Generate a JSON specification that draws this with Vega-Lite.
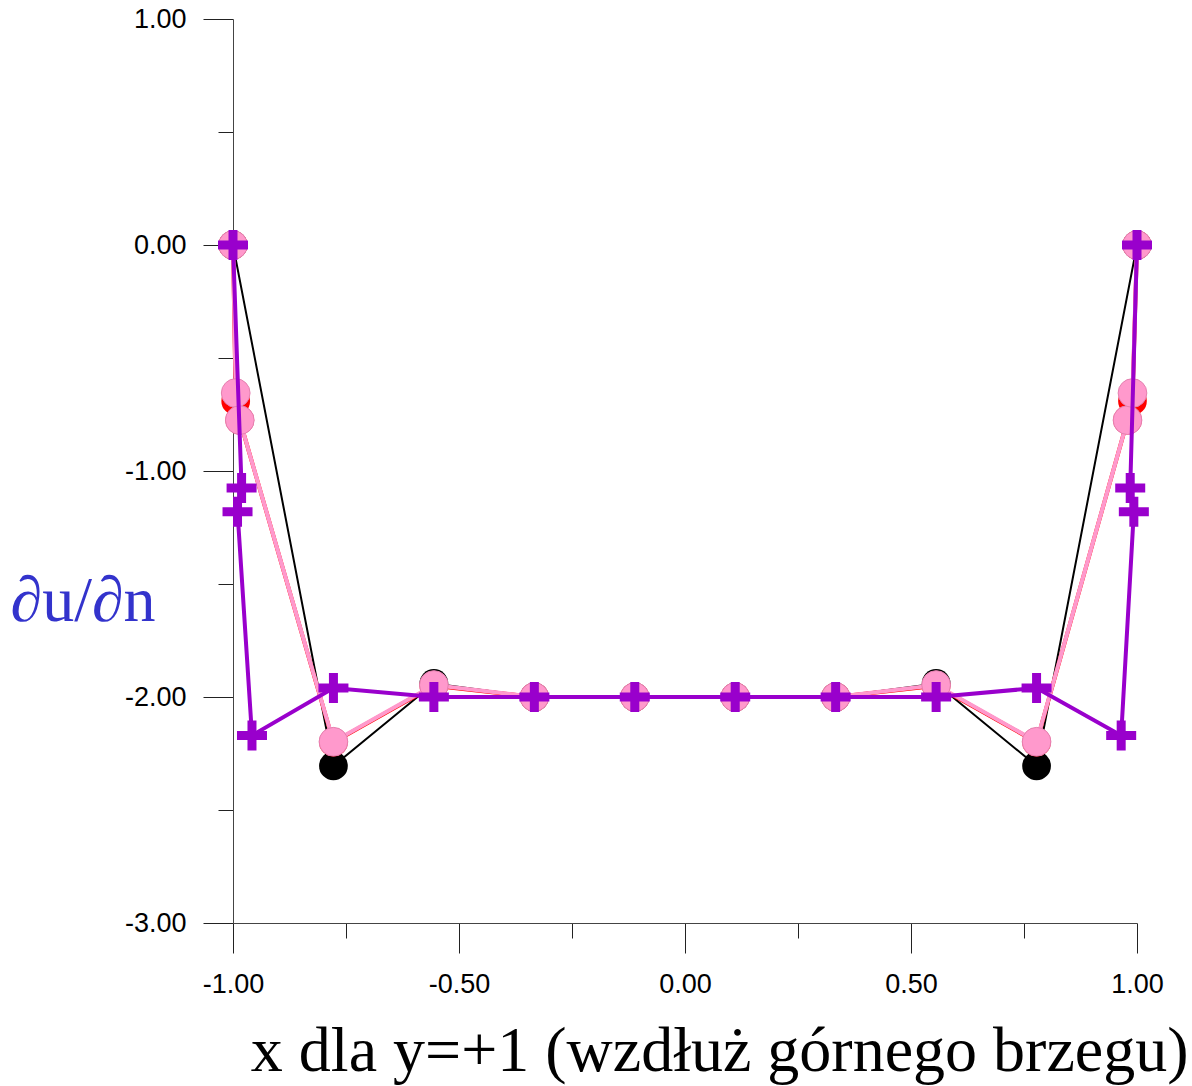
{
  "$schema": "https://vega.github.io/schema/vega-lite/v6.json",
  "autosize": "none",
  "width": 904,
  "height": 904,
  "padding": {"left": 233, "top": 19, "right": 55, "bottom": 163},
  "background": "white",
  "config": {"view": {"stroke": null}},
  "data": {"values": [
    {"s": "black", "i": 1, "x": -1, "y": 0},
    {"s": "black", "i": 2, "x": -0.7778, "y": -2.305},
    {"s": "black", "i": 3, "x": -0.5556, "y": -1.94},
    {"s": "black", "i": 4, "x": -0.3333, "y": -2.0},
    {"s": "black", "i": 5, "x": -0.1111, "y": -2.0},
    {"s": "black", "i": 6, "x": 0.1111, "y": -2.0},
    {"s": "black", "i": 7, "x": 0.3333, "y": -2.0},
    {"s": "black", "i": 8, "x": 0.5556, "y": -1.94},
    {"s": "black", "i": 9, "x": 0.7778, "y": -2.305},
    {"s": "black", "i": 10, "x": 1, "y": 0},
    {"s": "red", "i": 1, "x": -1, "y": 0},
    {"s": "red", "i": 2, "x": -0.994, "y": -0.69},
    {"s": "red", "i": 3, "x": -0.985, "y": -0.775},
    {"s": "red", "i": 4, "x": -0.7778, "y": -2.2},
    {"s": "red", "i": 5, "x": -0.5556, "y": -1.95},
    {"s": "red", "i": 6, "x": -0.3333, "y": -2.0},
    {"s": "red", "i": 7, "x": -0.1111, "y": -2.0},
    {"s": "red", "i": 8, "x": 0.1111, "y": -2.0},
    {"s": "red", "i": 9, "x": 0.3333, "y": -2.0},
    {"s": "red", "i": 10, "x": 0.5556, "y": -1.95},
    {"s": "red", "i": 11, "x": 0.7778, "y": -2.2},
    {"s": "red", "i": 12, "x": 0.979, "y": -0.775},
    {"s": "red", "i": 13, "x": 0.990, "y": -0.69},
    {"s": "red", "i": 14, "x": 1, "y": 0},
    {"s": "pink", "i": 1, "x": -1, "y": 0},
    {"s": "pink", "i": 2, "x": -0.994, "y": -0.655},
    {"s": "pink", "i": 3, "x": -0.985, "y": -0.775},
    {"s": "pink", "i": 4, "x": -0.7778, "y": -2.198},
    {"s": "pink", "i": 5, "x": -0.5556, "y": -1.947},
    {"s": "pink", "i": 6, "x": -0.3333, "y": -2.0},
    {"s": "pink", "i": 7, "x": -0.1111, "y": -2.0},
    {"s": "pink", "i": 8, "x": 0.1111, "y": -2.0},
    {"s": "pink", "i": 9, "x": 0.3333, "y": -2.0},
    {"s": "pink", "i": 10, "x": 0.5556, "y": -1.947},
    {"s": "pink", "i": 11, "x": 0.7778, "y": -2.198},
    {"s": "pink", "i": 12, "x": 0.979, "y": -0.775},
    {"s": "pink", "i": 13, "x": 0.990, "y": -0.655},
    {"s": "pink", "i": 14, "x": 1, "y": 0},
    {"s": "purple", "i": 1, "x": -1, "y": 0},
    {"s": "purple", "i": 2, "x": -0.981, "y": -1.075},
    {"s": "purple", "i": 3, "x": -0.990, "y": -1.18},
    {"s": "purple", "i": 4, "x": -0.958, "y": -2.17},
    {"s": "purple", "i": 5, "x": -0.7778, "y": -1.96},
    {"s": "purple", "i": 6, "x": -0.5556, "y": -2.0},
    {"s": "purple", "i": 7, "x": -0.3333, "y": -2.0},
    {"s": "purple", "i": 8, "x": -0.1111, "y": -2.0},
    {"s": "purple", "i": 9, "x": 0.1111, "y": -2.0},
    {"s": "purple", "i": 10, "x": 0.3333, "y": -2.0},
    {"s": "purple", "i": 11, "x": 0.5556, "y": -2.0},
    {"s": "purple", "i": 12, "x": 0.7778, "y": -1.96},
    {"s": "purple", "i": 13, "x": 0.965, "y": -2.17},
    {"s": "purple", "i": 14, "x": 0.993, "y": -1.18},
    {"s": "purple", "i": 15, "x": 0.985, "y": -1.075},
    {"s": "purple", "i": 16, "x": 1, "y": 0}
  ]},
  "encoding": {
    "x": {
      "field": "x", "type": "quantitative",
      "scale": {"domain": [-1, 1], "nice": false, "zero": false},
      "axis": {
        "values": [-1, -0.75, -0.5, -0.25, 0, 0.25, 0.5, 0.75, 1],
        "labelExpr": "abs(datum.value*2 - round(datum.value*2)) < 0.01 ? ((datum.value < -0.001 ? '-' : '') + format(abs(datum.value), '.2f')) : ''",
        "tickSize": {"condition": {"test": "abs(datum.value*2 - round(datum.value*2)) < 0.01", "value": 30}, "value": 15},
        "tickColor": "#222",
        "domainColor": "#444",
        "grid": false,
        "labelFont": "Liberation Sans",
        "labelFontSize": 27,
        "labelColor": "black",
        "labelPadding": 18,
        "labelFlush": false,
        "labelOverlap": false,
        "title": "x dla y=+1 (wzdłuż górnego brzegu)",
        "titleFont": "Liberation Serif",
        "titleFontSize": 64,
        "titleFontWeight": "normal",
        "titleColor": "black",
        "titleAlign": "right",
        "titleBaseline": "alphabetic",
        "titleX": 955,
        "titleY": 147
      }
    },
    "y": {
      "field": "y", "type": "quantitative",
      "scale": {"domain": [-3, 1], "nice": false, "zero": false},
      "axis": {
        "values": [-3, -2.5, -2, -1.5, -1, -0.5, 0, 0.5, 1],
        "labelExpr": "abs(datum.value - round(datum.value)) < 0.01 ? ((datum.value < -0.001 ? '-' : '') + format(abs(datum.value), '.2f')) : ''",
        "tickSize": {"condition": {"test": "abs(datum.value - round(datum.value)) < 0.01", "value": 30}, "value": 15},
        "tickColor": "#222",
        "domainColor": "#444",
        "grid": false,
        "labelFont": "Liberation Sans",
        "labelFontSize": 27,
        "labelColor": "black",
        "labelPadding": 17,
        "labelFlush": false,
        "labelOverlap": false,
        "title": "∂u/∂n",
        "titleFont": "Liberation Serif",
        "titleFontSize": 64,
        "titleFontWeight": "normal",
        "titleColor": "#3333cc",
        "titleAngle": 0,
        "titleAlign": "left",
        "titleBaseline": "alphabetic",
        "titleX": -223,
        "titleY": 601
      }
    },
    "order": {"field": "i", "type": "quantitative"}
  },
  "layer": [
    {"transform": [{"filter": "datum.s === 'black'"}], "mark": {"type": "line", "color": "black", "strokeWidth": 2}},
    {"transform": [{"filter": "datum.s === 'black'"}], "mark": {"type": "point", "shape": "circle", "filled": true, "color": "black", "size": 824, "opacity": 1}},
    {"transform": [{"filter": "datum.s === 'red'"}], "mark": {"type": "line", "color": "#ff0000", "strokeWidth": 4}},
    {"transform": [{"filter": "datum.s === 'red'"}], "mark": {"type": "point", "shape": "circle", "filled": true, "color": "#ff0000", "size": 824, "opacity": 1}},
    {"transform": [{"filter": "datum.s === 'pink'"}], "mark": {"type": "line", "color": "#ff99cc", "strokeWidth": 4}},
    {"transform": [{"filter": "datum.s === 'pink'"}], "mark": {"type": "point", "shape": "circle", "filled": true, "fill": "#ff99cc", "stroke": "#e580b0", "strokeWidth": 1, "size": 824, "opacity": 1}},
    {"transform": [{"filter": "datum.s === 'purple'"}], "mark": {"type": "line", "color": "#9900cc", "strokeWidth": 4}},
    {"transform": [{"filter": "datum.s === 'purple'"}], "mark": {"type": "point", "shape": "M-1,-0.3H-0.3V-1H0.3V-0.3H1V0.3H0.3V1H-0.3V0.3H-1Z", "filled": true, "color": "#9900cc", "size": 900, "opacity": 1}}
  ]
}
